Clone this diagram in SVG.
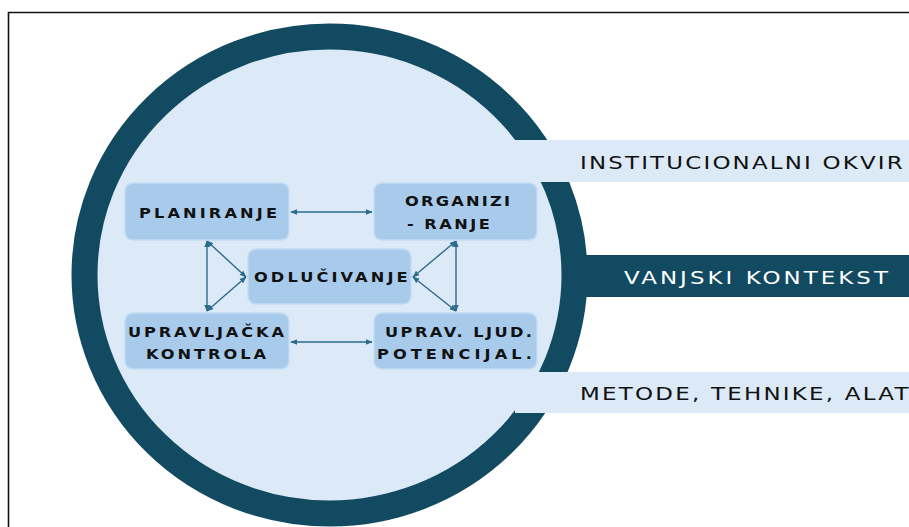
<svg xmlns="http://www.w3.org/2000/svg" width="909" height="527" viewBox="0 0 909 527">
<style>
.node{fill:#a8cbec;stroke:#c3dcf3;stroke-width:1.5}
.nt{font-family:"DejaVu Sans",sans-serif;font-weight:bold;font-size:13.5px;fill:#111}
.bt{font-family:"DejaVu Sans",sans-serif;font-size:17px;fill:#111}
.con{stroke:#2b6b8c;stroke-width:1.4;fill:none;marker-start:url(#ah);marker-end:url(#ah)}
</style>
<defs>
<marker id="ah" viewBox="0 0 10 10" refX="9" refY="5" markerWidth="7" markerHeight="7" markerUnits="userSpaceOnUse" orient="auto-start-reverse">
<path d="M0,1 L10,5 L0,9 z" fill="#2b6b8c"/>
</marker>
</defs>
<rect width="909" height="527" fill="#fff"/>
<path d="M8.5,527 V12.5 H909" fill="none" stroke="#111" stroke-width="1.6"/>
<g id="ring">
<ellipse cx="329.5" cy="275" rx="245" ry="238.5" fill="#dce9f6" stroke="#124a62" stroke-width="26"/>
</g>
<g id="band-institucionalni">
<rect x="515" y="140" width="394" height="42" fill="#dce9f6"/>
<text class="bt" transform="translate(580,169) scale(1.35,1)" textLength="239" lengthAdjust="spacing">INSTITUCIONALNI OKVIR</text>
</g>
<g id="band-vanjski">
<rect x="570" y="255" width="339" height="42" fill="#124a62"/>
<text class="bt" transform="translate(624,284) scale(1.35,1)" textLength="195.5" lengthAdjust="spacing" style="fill:#fff">VANJSKI KONTEKST</text>
</g>
<g id="band-metode">
<rect x="515" y="372" width="394" height="41" fill="#dce9f6"/>
<text class="bt" transform="translate(580,400) scale(1.35,1)" textLength="250" lengthAdjust="spacing">METODE, TEHNIKE, ALATI</text>
</g>
<g id="connectors">
<line class="con" x1="291" y1="212" x2="372" y2="212"/>
<line class="con" x1="291" y1="342" x2="372" y2="342"/>
<line class="con" x1="207" y1="241" x2="207" y2="311"/>
<line class="con" x1="207" y1="241" x2="246" y2="277"/>
<line class="con" x1="207" y1="311" x2="246" y2="277"/>
<line class="con" x1="456" y1="241" x2="456" y2="311"/>
<line class="con" x1="456" y1="241" x2="413" y2="277"/>
<line class="con" x1="456" y1="311" x2="413" y2="277"/>
</g>
<g id="planiranje">
<rect class="node" x="125" y="183" width="164" height="57" rx="8"/>
<text class="nt" transform="translate(139,218) scale(1.2,1)" textLength="115" lengthAdjust="spacing">PLANIRANJE</text>
</g>
<g id="organiziranje">
<rect class="node" x="374" y="183" width="163" height="57" rx="8"/>
<text class="nt" transform="translate(405,206) scale(1.2,1)" textLength="87.5" lengthAdjust="spacing">ORGANIZI</text>
<text class="nt" transform="translate(407,229) scale(1.2,1)" textLength="69" lengthAdjust="spacing">- RANJE</text>
</g>
<g id="odlucivanje">
<rect class="node" x="248" y="249" width="163" height="55" rx="8"/>
<text class="nt" transform="translate(254,282) scale(1.2,1)" textLength="128" lengthAdjust="spacing">ODLUČIVANJE</text>
</g>
<g id="upravljacka-kontrola">
<rect class="node" x="125" y="313" width="164" height="56" rx="8"/>
<text class="nt" transform="translate(128,337) scale(1.2,1)" textLength="130" lengthAdjust="spacing">UPRAVLJAČKA</text>
<text class="nt" transform="translate(146,359) scale(1.2,1)" textLength="100" lengthAdjust="spacing">KONTROLA</text>
</g>
<g id="uprav-ljud-potencijal">
<rect class="node" x="374" y="313" width="163" height="56" rx="8"/>
<text class="nt" transform="translate(385,337) scale(1.2,1)" textLength="122.5" lengthAdjust="spacing">UPRAV. LJUD.</text>
<text class="nt" transform="translate(377,359) scale(1.2,1)" textLength="129" lengthAdjust="spacing">POTENCIJAL.</text>
</g>
</svg>
